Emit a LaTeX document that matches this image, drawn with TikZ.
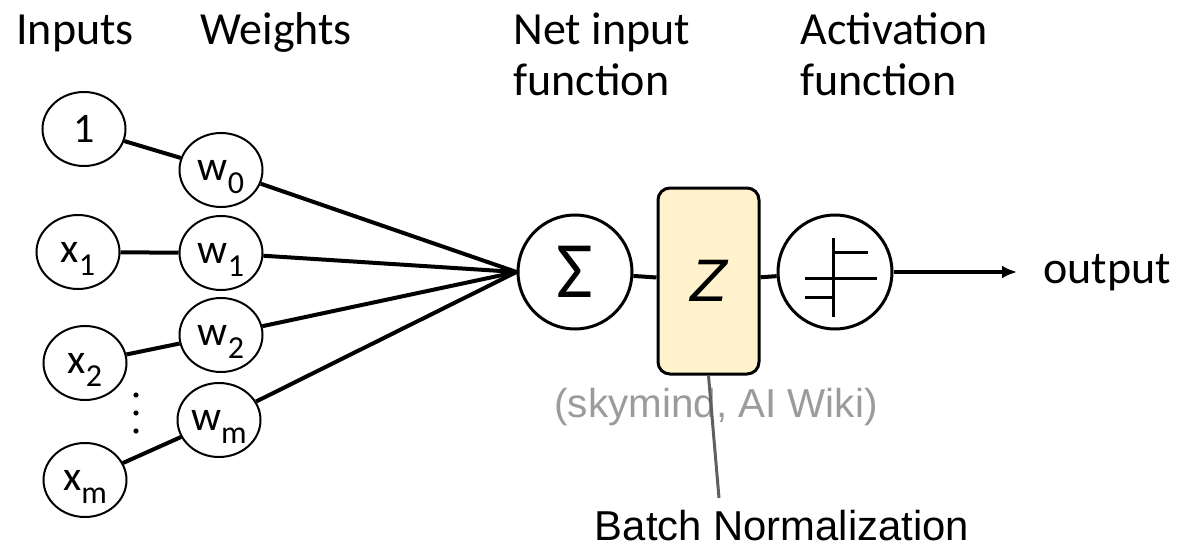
\documentclass[tikz,border=0pt]{standalone}
\usepackage{fontspec}
\setmainfont{Carlito}
\newfontfamily\arialfont{Liberation Sans}
\usetikzlibrary{arrows.meta,positioning,shapes.geometric}
\definecolor{nnedge}{RGB}{0,0,0}
\definecolor{nnbn}{RGB}{255,242,204}
\definecolor{nncite}{RGB}{155,155,155}
\definecolor{nnlead}{RGB}{95,95,95}
\newcommand{\lowsub}[1]{\smash{\raisebox{-0.32em}{\fontsize{16}{16}\selectfont #1}}}
\tikzset{
  unit/.style={
    draw=nnedge, ellipse, line width=1pt, inner sep=0pt,
    minimum width=41.5pt, minimum height=37pt,
    font=\fontsize{21}{24}\selectfont
  },
  ring/.style={
    draw=nnedge, circle, line width=1.5pt, inner sep=0pt, minimum size=57pt
  },
  bnbox/.style={
    draw=nnedge, fill=nnbn, line width=1.5pt, rounded corners=6pt,
    minimum width=50.5pt, minimum height=93pt,
    font=\arialfont\itshape\fontsize{30}{32}\selectfont
  },
  wire/.style={draw=nnedge, line width=2pt},
  arr/.style={wire, -{Latex[length=7.5pt,width=6.5pt]}},
  lbl/.style={font=\fontsize{23}{25.5}\selectfont, inner sep=0pt, align=left},
  anno/.style={font=\arialfont\fontsize{20.2}{23}\selectfont, inner sep=0pt},
  lead/.style={draw=nnlead, line width=1.5pt}
}
\begin{document}
\begin{tikzpicture}[x=0.5pt,y=-0.5pt]
  \useasboundingbox (0,0) rectangle (1178,551);

  % Column headings
  \node[lbl, anchor=base west] (hin) at (16,45) {Inputs};
  \node[lbl, anchor=base west] (hw) at (200,45) {Weights};
  \node[lbl, anchor=north west] (hnet) at (513,12) {Net input\\function};
  \node[lbl, anchor=north west] (hact) at (800,12) {Activation\\function};

  % Inputs and their weights
  \node[unit] (one) at (84,129) {1};
  \node[unit] (x1) at (78,252) {x\lowsub{1}};
  \node[unit] (x2) at (85,363) {x\lowsub{2}};
  \node[unit] (xm) at (85,480) {x\lowsub{m}};
  \node[unit] (w0) at (221,170) {w\lowsub{0}};
  \node[unit] (w1) at (221,253) {w\lowsub{1}};
  \node[unit] (w2) at (221,335) {w\lowsub{2}};
  \node[unit] (wm) at (219,420) {w\lowsub{m}};
  \foreach \y in {395,413,431}
    \fill[nnedge] (136,\y) circle (1.3pt);

  % Sum, batch norm, activation
  \node[ring, font=\fontsize{40}{44}\selectfont] (sum) at (575,272) {Σ};
  \node[bnbox] (bn) at (708.5,281) {Z};
  \node[ring] (act) at (835,272) {};
  \begin{scope}[shift={(act.center)}, line width=1.5pt]
    \draw (-2,-34) -- (-2,45);
    \draw (-2,-20) -- (33,-20);
    \draw (-30,6) -- (42,6);
    \draw (-30,25) -- (-2,25);
  \end{scope}
  \node[lbl, anchor=base west] (out) at (1043,283) {output};

  \draw[wire] (one) -- (w0);
  \draw[wire] (x1) -- (w1);
  \draw[wire] (x2) -- (w2);
  \draw[wire] (xm) -- (wm);
  \draw[wire] (w0) -- (sum.west);
  \draw[arr] (w1) -- (sum.west);
  \draw[wire] (w2) -- (sum.west);
  \draw[wire] (wm) -- (sum.west);
  \draw[wire] (sum) -- (bn);
  \draw[wire] (bn) -- (act);
  \coordinate (outtip) at (1017,272);
  \draw[arr] (act) -- (outtip);

  % Source note and batch norm callout
  \node[anno, text=nncite, anchor=base] (cite) at (716,417) {(skymind, AI Wiki)};
  \node[anno, anchor=base, font=\arialfont\fontsize{20.9}{24}\selectfont] (bnlbl) at (782,540) {Batch Normalization};
  \coordinate (bnend) at (719,498);
  \draw[lead] (bn.south) -- (bnend);
\end{tikzpicture}
\end{document}
